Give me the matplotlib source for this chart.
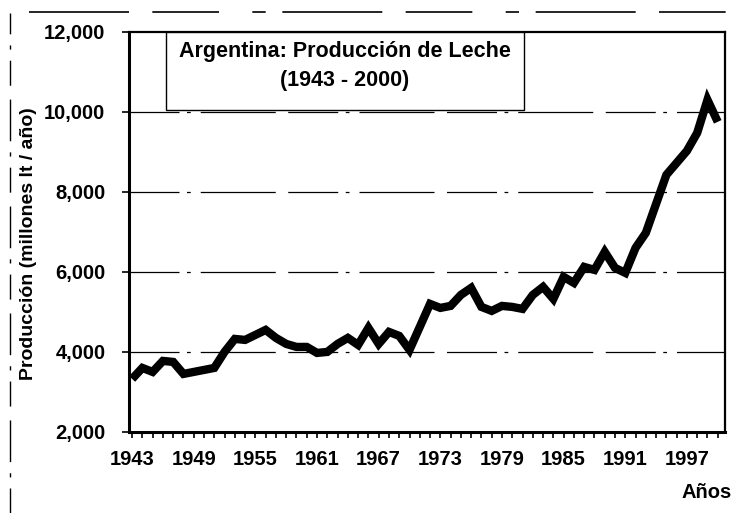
"""Argentina: producción de leche 1943-2000, line chart in the old spreadsheet style."""
import matplotlib
matplotlib.use("Agg")
import matplotlib.pyplot as plt  # noqa: E402
from matplotlib.lines import Line2D  # noqa: E402
from matplotlib.patches import Rectangle  # noqa: E402
from matplotlib.ticker import FuncFormatter, MultipleLocator  # noqa: E402

plt.rcParams["font.family"] = ["Liberation Sans", "DejaVu Sans"]

# millones de litros por año
produccion = {
    1943: 3325, 1944: 3600, 1945: 3500, 1946: 3775, 1947: 3750,
    1948: 3450, 1949: 3500, 1950: 3550, 1951: 3600, 1952: 4000,
    1953: 4325, 1954: 4300, 1955: 4425, 1956: 4550, 1957: 4350,
    1958: 4200, 1959: 4125, 1960: 4125, 1961: 3975, 1962: 4000,
    1963: 4200, 1964: 4350, 1965: 4175, 1966: 4600, 1967: 4200,
    1968: 4500, 1969: 4400, 1970: 4050, 1971: 4625, 1972: 5200,
    1973: 5100, 1974: 5150, 1975: 5425, 1976: 5600, 1977: 5125,
    1978: 5025, 1979: 5150, 1980: 5125, 1981: 5075, 1982: 5425,
    1983: 5625, 1984: 5325, 1985: 5875, 1986: 5725, 1987: 6125,
    1988: 6050, 1989: 6500, 1990: 6100, 1991: 5975, 1992: 6600,
    1993: 6975, 1994: 7700, 1995: 8425, 1996: 8725, 1997: 9025,
    1998: 9475, 1999: 10300, 2000: 9750,
}
years = list(produccion)
values = list(produccion.values())

fig = plt.figure(figsize=(7.33, 5.13), dpi=100)
ax = fig.add_axes([0.176, 0.158, 0.813, 0.780])

# grid drawn by hand so the dashes look like the scanned original
for yv in (4000, 6000, 8000, 10000):
    ax.axhline(yv, color="black", lw=0.9, dashes=(40, 6, 3, 8, 60, 10), zorder=1)

ax.plot(years, values, color="black", lw=6, solid_joinstyle="miter",
        solid_capstyle="butt", zorder=3)

ax.set_xlim(1942.7, 2000.7)
ax.set_ylim(2000, 12000)
ax.yaxis.set_major_locator(MultipleLocator(2000))
ax.yaxis.set_major_formatter(FuncFormatter(lambda v, _: f"{v:,.0f}"))
ax.set_xticks(years)
ax.set_xticklabels([str(y) if (y - 1943) % 6 == 0 else "" for y in years])
ax.tick_params(axis="x", direction="out", length=4, width=1.2, pad=9, labelsize=14.5)
ax.tick_params(axis="y", direction="out", length=5, width=1.2, pad=12, labelsize=14.5)
for lbl in ax.get_xticklabels() + ax.get_yticklabels():
    lbl.set_fontweight("bold")

for side in ("left", "bottom"):
    ax.spines[side].set_linewidth(2.2)
for side in ("right", "top"):
    ax.spines[side].set_linewidth(1.6)

ax.set_ylabel("Producción (millones lt / año)", fontsize=14, fontweight="bold")
ax.yaxis.set_label_coords(-0.155, 0.47)
fig.text(0.998, 0.022, "Años", fontsize=14.5, fontweight="bold", ha="right", va="bottom")

# title box in the upper left of the plot area
box = Rectangle((0.062, 0.805), 0.60, 0.195, transform=ax.transAxes,
                fill=True, facecolor="white", edgecolor="black", lw=1.0, zorder=4)
ax.add_patch(box)
ax.text(0.362, 0.952, "Argentina: Producción de Leche", transform=ax.transAxes,
        ha="center", va="center", fontsize=15.5, fontweight="bold", zorder=5)
ax.text(0.362, 0.878, "(1943 - 2000)", transform=ax.transAxes,
        ha="center", va="center", fontsize=15.5, fontweight="bold", zorder=5)

# faint scan borders around the chart area
top_border = Line2D([0.04, 1.0], [0.977, 0.977], transform=fig.transFigure,
                    color="black", lw=1.2, dashes=(60, 14, 40, 20, 8, 10))
left_border = Line2D([0.013, 0.013], [0.0, 0.975], transform=fig.transFigure,
                     color="black", lw=1.0, dashes=(18, 8, 3, 8, 30, 10))
fig.add_artist(top_border)
fig.add_artist(left_border)

fig.savefig("out.png", dpi=100, facecolor="white")
